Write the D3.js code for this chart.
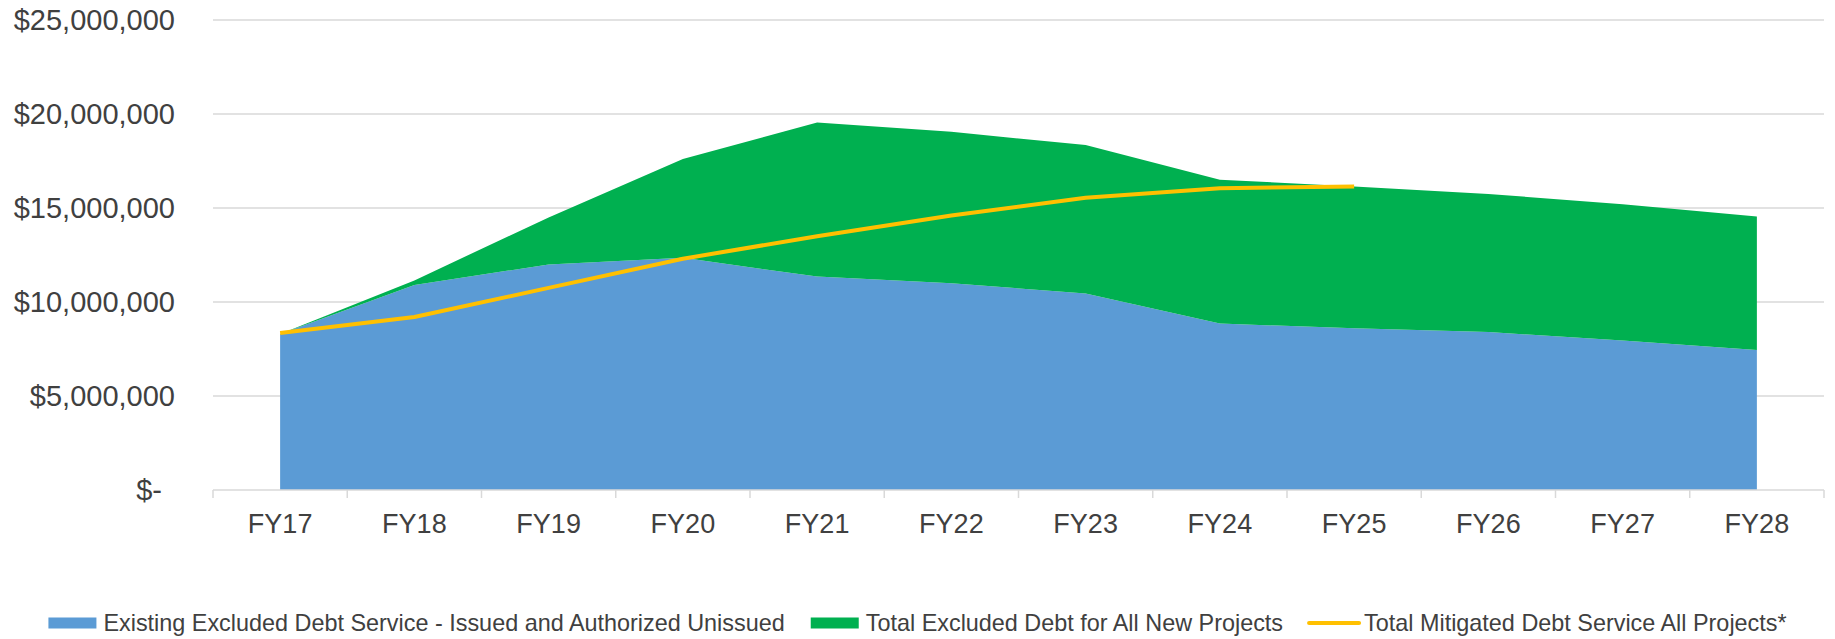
<!DOCTYPE html>
<html>
<head>
<meta charset="utf-8">
<script src="https://cdn.jsdelivr.net/npm/d3@7"></script>
<style>
    body { margin: 0; background: #fff; }
    svg { display: block; font-family: "Liberation Sans", Arial, sans-serif; }
</style>
</head>
<body>
<div id="chart"></div>
<script>
// Fiscal years on the x axis
const years = ['FY17', 'FY18', 'FY19', 'FY20', 'FY21', 'FY22', 'FY23', 'FY24', 'FY25', 'FY26', 'FY27', 'FY28'];

// Existing excluded debt service (bottom area)
const existingDebt = [8300000, 10900000, 12000000, 12350000, 11350000, 11000000, 10450000, 8850000, 8600000, 8400000, 7950000, 7450000];

// Excluded debt for new projects, stacked on top of the existing debt
const newProjectsDebt = [0, 250000, 2500000, 5250000, 8200000, 8050000, 7900000, 7650000, 7550000, 7350000, 7250000, 7100000];

// Mitigated debt service line (FY17 - FY25 only)
const mitigatedDebt = [8350000, 9200000, 10750000, 12300000, 13500000, 14600000, 15550000, 16050000, 16150000];

const yTicks = [0, 5000000, 10000000, 15000000, 20000000, 25000000];

const seriesNames = {
    existing: 'Existing Excluded Debt Service - Issued and Authorized Unissued',
    newProjects: 'Total Excluded Debt for All New Projects',
    mitigated: 'Total Mitigated Debt Service All Projects*'
};

const colors = {
    existing: '#5B9BD5',
    newProjects: '#00B050',
    mitigated: '#FFC000'
};

const W = 1835, H = 639;
const plot = {left: 213, right: 1824, top: 20, bottom: 490};

const svg = d3.select('#chart')
    .append('svg')
    .attr('width', W)
    .attr('height', H);

// Scales
const x = d3.scaleBand()
    .domain(years)
    .range([plot.left, plot.right])
    .padding(0);
const cx = d => x(d) + x.bandwidth() / 2;

const y = d3.scaleLinear()
    .domain([0, 25000000])
    .range([plot.bottom, plot.top]);

// Gridlines
svg.append('g')
    .selectAll('line')
    .data(yTicks.filter(t => t > 0))
    .enter()
    .append('line')
    .attr('x1', plot.left)
    .attr('x2', plot.right)
    .attr('y1', d => y(d))
    .attr('y2', d => y(d))
    .attr('stroke', '#d9d9d9')
    .attr('stroke-width', 1.5);

// Stacked areas
const table = years.map((yr, i) => ({
    year: yr,
    existing: existingDebt[i],
    newProjects: newProjectsDebt[i]
}));

const stacked = d3.stack().keys(['existing', 'newProjects'])(table);

const area = d3.area()
    .x(d => cx(d.data.year))
    .y0(d => y(d[0]))
    .y1(d => y(d[1]));

svg.append('g')
    .selectAll('path')
    .data(stacked)
    .enter()
    .append('path')
    .attr('fill', d => colors[d.key])
    .attr('d', area);

// Mitigated debt line
const line = d3.line()
    .x((d, i) => cx(years[i]))
    .y(d => y(d));

svg.append('path')
    .datum(mitigatedDebt)
    .attr('fill', 'none')
    .attr('stroke', colors.mitigated)
    .attr('stroke-width', 4)
    .attr('stroke-linejoin', 'round')
    .attr('d', line);

// X axis line and boundary ticks
const xAxisG = svg.append('g')
    .attr('transform', `translate(0,${plot.bottom})`);

xAxisG.append('line')
    .attr('x1', plot.left)
    .attr('x2', plot.right)
    .attr('stroke', '#d9d9d9')
    .attr('stroke-width', 1.5);

xAxisG.selectAll('.bound')
    .data(years.map(d => x(d)).concat([plot.right]))
    .enter()
    .append('line')
    .attr('class', 'bound')
    .attr('x1', d => d)
    .attr('x2', d => d)
    .attr('y1', 0)
    .attr('y2', 8)
    .attr('stroke', '#d9d9d9')
    .attr('stroke-width', 1.5);

xAxisG.call(d3.axisBottom(x).tickSize(0).tickPadding(24))
    .call(g => g.select('.domain').remove())
    .selectAll('text')
    .attr('fill', '#404040')
    .style('font-size', '27px')
    .style('font-family', '"Liberation Sans", Arial, sans-serif');

// Y axis labels
const fmt = d3.format(',');
svg.append('g')
    .attr('transform', `translate(${plot.left},0)`)
    .call(d3.axisLeft(y)
        .tickValues(yTicks)
        .tickSize(0)
        .tickPadding(38)
        .tickFormat(d => d === 0 ? '$-' : '$' + fmt(d)))
    .call(g => g.select('.domain').remove())
    .selectAll('text')
    .attr('fill', '#404040')
    .attr('dx', d => d === 0 ? -13 : 0)
    .style('font-size', '29px')
    .style('font-family', '"Liberation Sans", Arial, sans-serif');

// Legend
const legendItems = [
    {key: 'existing', type: 'rect'},
    {key: 'newProjects', type: 'rect'},
    {key: 'mitigated', type: 'line'}
];

const legend = svg.append('g');
let lx = 0;
legendItems.forEach((item, i) => {
    const g = legend.append('g').attr('transform', `translate(${lx},0)`);
    if (item.type === 'rect') {
        g.append('rect')
            .attr('x', 0)
            .attr('y', -5.5)
            .attr('width', 48)
            .attr('height', 11)
            .attr('fill', colors[item.key]);
    } else {
        g.append('line')
            .attr('x1', 0)
            .attr('x2', 50)
            .attr('y1', 0)
            .attr('y2', 0)
            .attr('stroke', colors[item.key])
            .attr('stroke-width', 4)
            .attr('stroke-linecap', 'round');
    }
    const t = g.append('text')
        .attr('x', 55)
        .attr('y', 0)
        .attr('dy', '0.35em')
        .attr('fill', '#404040')
        .style('font-size', '23.4px')
        .text(seriesNames[item.key]);
    lx += 55 + t.node().getComputedTextLength() + 26;
});
const legendWidth = lx - 26;
legend.attr('transform', `translate(${(W - legendWidth) / 2},623)`);
</script>
</body>
</html>
